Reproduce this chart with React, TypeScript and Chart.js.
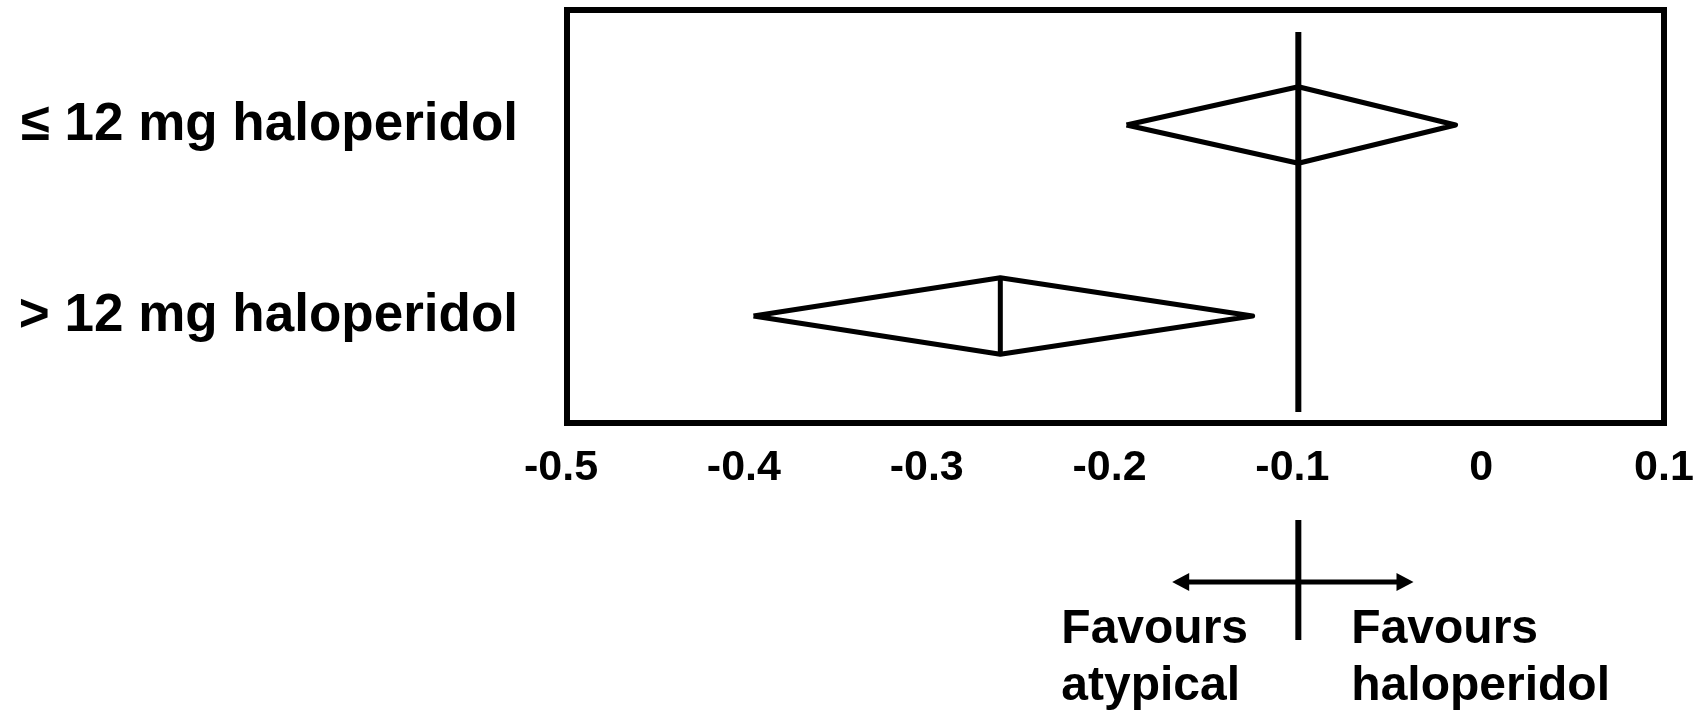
import React, { useEffect, useRef } from "react";
import { Chart, registerables } from "chart.js";

Chart.register(...registerables);

// ---- data ----
const categories = ["≤ 12 mg haloperidol", "> 12 mg haloperidol"];
const estimates = [-0.1, -0.263];
const lowerCI = [-0.194, -0.398];
const upperCI = [-0.014, -0.125];
const referenceValue = -0.1;
const xTickMin = -0.5;
const xTickMax = 0.1;
const xTickStep = 0.1;
const favoursLeft = ["Favours", "atypical"];
const favoursRight = ["Favours", "haloperidol"];
const arrowLeftValue = -0.169;
const arrowRightValue = -0.037;

const FONT = "'Liberation Sans', Arial, Helvetica, sans-serif";
const HALF = 0.2; // diamond half-height in row units

export default function App() {
  const canvasRef = useRef<HTMLCanvasElement | null>(null);

  useEffect(() => {
    if (!canvasRef.current) return;

    const datasets: any[] = [];
    categories.forEach((_, i) => {
      const y = i + 1;
      datasets.push({
        data: [
          { x: lowerCI[i], y },
          { x: estimates[i], y: y - HALF },
          { x: upperCI[i], y },
          { x: estimates[i], y: y + HALF },
          { x: lowerCI[i], y },
        ],
        showLine: true,
        borderColor: "#000",
        borderWidth: 5,
        borderJoinStyle: "round",
        pointRadius: 0,
        fill: false,
      });
      datasets.push({
        data: [
          { x: estimates[i], y: y - HALF },
          { x: estimates[i], y: y + HALF },
        ],
        showLine: true,
        borderColor: "#000",
        borderWidth: 5,
        pointRadius: 0,
        fill: false,
      });
    });
    datasets.push({
      data: [
        { x: referenceValue, y: 0.513 },
        { x: referenceValue, y: 2.503 },
      ],
      showLine: true,
      borderColor: "#000",
      borderWidth: 6,
      pointRadius: 0,
      fill: false,
    });

    const framePlugin = {
      id: "frame",
      afterDatasetsDraw(chart: any) {
        const { ctx, chartArea } = chart;
        ctx.save();
        ctx.strokeStyle = "#000";
        ctx.lineWidth = 6;
        ctx.strokeRect(
          chartArea.left,
          chartArea.top,
          chartArea.right - chartArea.left,
          chartArea.bottom - chartArea.top
        );
        ctx.restore();
      },
    };

    const annotationPlugin = {
      id: "favours",
      afterDraw(chart: any) {
        const { ctx } = chart;
        const xs = chart.scales.x;
        const cx = xs.getPixelForValue(referenceValue);
        const xl = xs.getPixelForValue(arrowLeftValue);
        const xr = xs.getPixelForValue(arrowRightValue);
        const ay = 582;
        ctx.save();
        ctx.strokeStyle = "#000";
        ctx.fillStyle = "#000";
        // vertical divider
        ctx.lineWidth = 6;
        ctx.beginPath();
        ctx.moveTo(cx, 520);
        ctx.lineTo(cx, 640);
        ctx.stroke();
        // horizontal arrow shaft
        ctx.lineWidth = 5;
        ctx.beginPath();
        ctx.moveTo(xl + 10, ay);
        ctx.lineTo(xr - 10, ay);
        ctx.stroke();
        // arrow heads
        const hl = 17;
        const hw = 9;
        ctx.beginPath();
        ctx.moveTo(xl, ay);
        ctx.lineTo(xl + hl, ay - hw);
        ctx.lineTo(xl + hl, ay + hw);
        ctx.closePath();
        ctx.fill();
        ctx.beginPath();
        ctx.moveTo(xr, ay);
        ctx.lineTo(xr - hl, ay - hw);
        ctx.lineTo(xr - hl, ay + hw);
        ctx.closePath();
        ctx.fill();
        // texts
        ctx.font = `bold 48px ${FONT}`;
        ctx.textAlign = "left";
        ctx.textBaseline = "alphabetic";
        favoursLeft.forEach((t, k) => ctx.fillText(t, cx - 237, 643 + k * 57));
        favoursRight.forEach((t, k) => ctx.fillText(t, cx + 53, 643 + k * 57));
        ctx.restore();
      },
    };

    const chart = new Chart(canvasRef.current, {
      type: "scatter",
      data: { datasets },
      options: {
        animation: false,
        responsive: false,
        events: [],
        layout: { padding: { top: 10, right: 36, bottom: 0, left: 0 } },
        plugins: {
          legend: { display: false },
          tooltip: { enabled: false },
          title: { display: false },
        },
        scales: {
          x: {
            type: "linear",
            min: xTickMin,
            max: xTickMax,
            grid: { display: false, drawTicks: false },
            border: { display: false },
            afterFit(scale: any) {
              scale.height = 712 - 423;
              scale.paddingLeft = 0;
              scale.paddingRight = 0;
              scale.paddingTop = 0;
              scale.paddingBottom = 0;
            },
            ticks: {
              stepSize: xTickStep,
              autoSkip: false,
              maxRotation: 0,
              padding: 19,
              color: "#000",
              font: { family: FONT, size: 43, weight: "bold" },
              callback: (v: any) => {
                const n = Math.round(Number(v) * 10) / 10;
                if (n === 0) return "0";
                return n < 0 ? `${n} ` : `${n}`;
              },
            },
          },
          y: {
            type: "linear",
            reverse: true,
            min: 0.398,
            max: 2.56,
            grid: { display: false, drawTicks: false },
            border: { display: false },
            afterBuildTicks(scale: any) {
              scale.ticks = categories.map((_, i) => ({ value: i + 1 }));
            },
            afterFit(scale: any) {
              scale.width = 567;
              scale.paddingLeft = 0;
              scale.paddingRight = 0;
              scale.paddingTop = 0;
              scale.paddingBottom = 0;
            },
            ticks: {
              padding: 49,
              color: "#000",
              font: { family: FONT, size: 53, weight: "bold" },
              callback: (v: any) => categories[Math.round(Number(v)) - 1] ?? "",
            },
          },
        },
      },
      plugins: [framePlugin, annotationPlugin],
    });

    return () => chart.destroy();
  }, []);

  return (
    <div style={{ position: "absolute", left: 0, top: 0, width: 1700, height: 712, background: "#fff" }}>
      <canvas ref={canvasRef} width={1700} height={712} style={{ width: 1700, height: 712, display: "block" }} />
    </div>
  );
}
